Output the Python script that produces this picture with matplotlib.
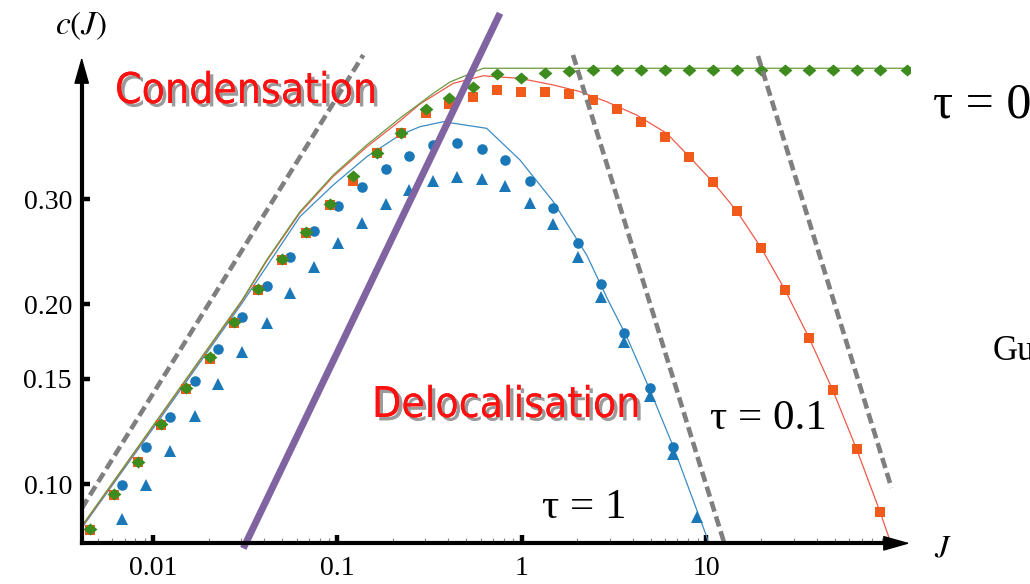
import matplotlib
matplotlib.use("Agg")
import matplotlib.pyplot as plt
import matplotlib.patheffects as pe
from matplotlib import font_manager
from matplotlib.font_manager import FontProperties
from matplotlib.ticker import FixedLocator, NullLocator, LogLocator, NullFormatter

# ---------------- data ----------------
# simulation points, tau = 0 and tau = 0.1 share the same J grid
J_grid = [0.00456, 0.00616, 0.00828, 0.01108, 0.0151, 0.0203, 0.0274, 0.0372,
          0.0499, 0.0676, 0.0912, 0.122, 0.1646, 0.2213, 0.3025, 0.4047,
          0.5463, 0.7318, 0.9913, 1.338, 1.805, 2.428, 3.302, 4.439, 5.99,
          8.12, 10.87, 14.68, 19.88, 26.84, 36.2, 48.7, 65.7, 87.9, 123.0]

c_tau0 = [0.0840, 0.0962, 0.1090, 0.1262, 0.1447, 0.1630, 0.1872, 0.2120,
          0.2380, 0.2645, 0.2945, 0.3282, 0.3591, 0.3880, 0.4250, 0.4440,
          0.4620, 0.4865, 0.4796, 0.4879, 0.4928, 0.4940, 0.4940, 0.4940,
          0.4940, 0.4940, 0.4940, 0.4940, 0.4940, 0.4940, 0.4940, 0.4940,
          0.4940, 0.4940, 0.4940]

c_tau01 = [0.0837, 0.0958, 0.1087, 0.1256, 0.1443, 0.1620, 0.1864, 0.2114,
           0.2373, 0.2637, 0.2935, 0.3224, 0.3591, 0.3870, 0.4180, 0.4340,
           0.4457, 0.4574, 0.4545, 0.4545, 0.4503, 0.4400, 0.4246, 0.4047,
           0.3820, 0.3535, 0.3210, 0.2868, 0.2489, 0.2114, 0.1759, 0.1437,
           0.1143, 0.0899]

# tau = 1, two data sets on a shifted grid
J_tau1 = [0.00678, 0.00920, 0.01230, 0.01687, 0.02259, 0.03048, 0.04150,
          0.05508, 0.07447, 0.1009, 0.1365, 0.1837, 0.2460, 0.3311, 0.4436,
          0.6053, 0.8166, 1.109, 1.484, 2.009, 2.704, 3.606, 4.943, 6.622, 8.913]

c_tau1_circ = [0.0996, 0.1152, 0.1297, 0.1490, 0.1684, 0.1907, 0.2147, 0.2404,
               0.2658, 0.2923, 0.3142, 0.3368, 0.3549, 0.3699, 0.3733, 0.3638,
               0.3491, 0.3220, 0.2905, 0.2532, 0.2161, 0.1789, 0.1447, 0.1155]

c_tau1_tri = [0.0873, 0.0996, 0.1137, 0.1300, 0.1471, 0.1666, 0.1864, 0.2088,
              0.2307, 0.2538, 0.2741, 0.2942, 0.3109, 0.3223, 0.3273, 0.3244,
              0.3158, 0.2961, 0.2724, 0.2404, 0.2060, 0.1732, 0.1404, 0.1123,
              0.0882]

# theory curves
Jth_tau0 = [0.0041, 0.01117, 0.0304, 0.0413, 0.0626, 0.095, 0.1442, 0.2186,
            0.3315, 0.408, 0.619, 128.0]
cth_tau0 = [0.0850, 0.1315, 0.2034, 0.2373, 0.2860, 0.3295, 0.3699, 0.4102,
            0.4516, 0.4717, 0.4974, 0.4974]

Jth_tau01 = [0.0041, 0.01117, 0.0304, 0.0413, 0.0626, 0.095, 0.1442, 0.2186,
             0.2807, 0.4253, 0.6186, 0.979, 1.484, 2.072, 2.892, 4.207, 6.122,
             8.12, 10.87, 14.68, 19.88, 26.84, 36.2, 48.7, 65.7, 87.9, 106.0]
cth_tau01 = [0.0847, 0.1310, 0.2026, 0.2364, 0.2846, 0.3277, 0.3671, 0.4060,
             0.4333, 0.4693, 0.4832, 0.4784, 0.4663, 0.4545, 0.4371, 0.4152,
             0.3870, 0.3535, 0.3210, 0.2868, 0.2489, 0.2114, 0.1759, 0.1437,
             0.1143, 0.0899, 0.0760]

Jth_tau1 = [0.0041, 0.01117, 0.0304, 0.0626, 0.095, 0.1442, 0.2186, 0.2807,
            0.3755, 0.6457, 0.979, 1.484, 2.253, 2.939, 3.713, 4.968, 6.646,
            10.09, 10.78]
cth_tau1 = [0.0844, 0.1300, 0.2010, 0.2805, 0.3170, 0.3535, 0.3845, 0.3970,
            0.4047, 0.3945, 0.3491, 0.2973, 0.2419, 0.2034, 0.1766, 0.1437,
            0.1155, 0.0816, 0.0760]

# asymptotes and the phase boundary
J_asym_left = [0.0041, 0.1382]
c_asym_left = [0.0910, 0.5236]
J_asym_mid = [1.898, 12.56]
c_asym_mid = [0.5236, 0.0796]
J_asym_right = [19.15, 101.5]
c_asym_right = [0.5215, 0.0985]
J_boundary = [0.03086, 0.7627]
c_boundary = [0.0780, 0.615]

x_ticks = [0.01, 0.1, 1, 10]
x_tick_labels = ["0.01", "0.1", "1", "10"]
y_ticks = [0.10, 0.15, 0.20, 0.30]
y_tick_labels = ["0.10", "0.15", "0.20", "0.30"]

# ---------------- style ----------------
W, H = 1030, 584
DPI = 100


def fx(px):
    return px / W


def fy(py):
    return 1 - py / H


def pick_font(names):
    for n in names:
        try:
            font_manager.findfont(n, fallback_to_default=False)
            return n
        except Exception:
            continue
    return "DejaVu Sans"


def narrow_font(size):
    """A regular-weight condensed sans face if one is installed."""
    keys = ("narrow", "condensed", "cond")
    cands = []
    for f in font_manager.fontManager.ttflist:
        name = (f.fname.split("/")[-1]).lower()
        if any(k in name for k in keys) and "sans" in name \
                and "bold" not in name and "italic" not in name \
                and "oblique" not in name and "light" not in name \
                and "semi" not in name and "extra" not in name:
            cands.append(f.fname)
    if cands:
        cands.sort(key=lambda s: ("liberation" not in s.lower(), len(s)))
        return FontProperties(fname=cands[0], size=size)
    return FontProperties(family=pick_font(["Roboto", "Liberation Sans"]),
                          size=size * 0.88)


serif = pick_font(["Liberation Serif", "DejaVu Serif"])
plt.rcParams["mathtext.fontset"] = "stix"

BLUE = "#1a77b8"
ORANGE = "#f05a1a"
GREEN = "#3f8c1e"

fig = plt.figure(figsize=(W / DPI, H / DPI), dpi=DPI, facecolor="white")
ax_left, ax_right, ax_top, ax_bot = 81.7, 910, 57, 543.3
ax = fig.add_axes([fx(ax_left), fy(ax_bot), fx(ax_right - ax_left),
                   (ax_bot - ax_top) / H])
ax.set_xscale("log")
ax.set_yscale("log")
ax.set_xlim(0.004099, 127.9)
ax.set_ylim(0.07955, 0.5195)
ax.patch.set_alpha(0)

# theory curves
ax.plot(Jth_tau1, cth_tau1, color="#3c8cc4", lw=0.9, zorder=2)
ax.plot(Jth_tau01, cth_tau01, color="#ee5a4a", lw=0.9, zorder=2)
ax.plot(Jth_tau0, cth_tau0, color="#6a9a40", lw=0.9, zorder=2)

# simulation markers
ax.plot(J_tau1[:len(c_tau1_tri)], c_tau1_tri, ls="none", marker="^", ms=8.5,
        mew=0, color=BLUE, zorder=3)
ax.plot(J_tau1[:len(c_tau1_circ)], c_tau1_circ, ls="none", marker="o", ms=7.6,
        mew=0, color=BLUE, zorder=3)
ax.plot(J_grid[:len(c_tau01)], c_tau01, ls="none", marker="s", ms=7.8,
        mew=0, color=ORANGE, zorder=4)
diamond = [(-1.15, 0), (0, 1), (1.15, 0), (0, -1), (-1.15, 0)]
ax.plot(J_grid[:len(c_tau0)], c_tau0, ls="none", marker=diamond, ms=10,
        mew=0, color=GREEN, zorder=5)

# asymptotes
dash_kw = dict(color="#7f7f7f", lw=3.3, dashes=(2.3, 1.1), zorder=6,
               clip_on=False, solid_capstyle="butt", dash_capstyle="butt")
ax.plot(J_asym_left, c_asym_left, **dash_kw)
ax.plot(J_asym_mid, c_asym_mid, **dash_kw)
ax.plot(J_asym_right, c_asym_right, **dash_kw)

# condensation / delocalisation boundary
ax.plot(J_boundary, c_boundary, color="#8064a2", lw=5, zorder=7,
        clip_on=False, solid_capstyle="butt")

# axes: only left and bottom, ending in arrows
for s in ("top", "right"):
    ax.spines[s].set_visible(False)
for s in ("left", "bottom"):
    ax.spines[s].set_linewidth(3)
    ax.spines[s].set_zorder(8)
ax.spines["left"].set_bounds(0.07955, 0.47)
ax.spines["bottom"].set_bounds(0.004099, 95.0)

arrow_kw = dict(arrowstyle="-|>,head_length=0.85,head_width=0.24",
                color="k", lw=1.0, mutation_scale=20, shrinkA=0, shrinkB=0)
ax.annotate("", xy=(0, 1), xycoords="axes fraction", xytext=(0, 0.9),
            arrowprops=arrow_kw, annotation_clip=False, zorder=9)
ax.annotate("", xy=(1, 0), xycoords="axes fraction", xytext=(0.95, 0),
            arrowprops=arrow_kw, annotation_clip=False, zorder=9)

# ticks
ax.xaxis.set_major_locator(FixedLocator(x_ticks))
ax.set_xticklabels(x_tick_labels)
ax.xaxis.set_minor_locator(LogLocator(base=10, subs=range(2, 10), numticks=20))
ax.xaxis.set_minor_formatter(NullFormatter())
ax.yaxis.set_major_locator(FixedLocator(y_ticks))
ax.set_yticklabels(y_tick_labels)
ax.yaxis.set_minor_locator(NullLocator())
ax.tick_params(axis="both", which="major", direction="in", length=6,
               width=3.2, color="k")
ax.tick_params(axis="x", which="minor", direction="in", length=3.6,
               width=0.8, color="#888888")
ax.tick_params(axis="x", which="major", pad=9)
ax.tick_params(axis="y", which="major", pad=7)
for lab in ax.get_xticklabels() + ax.get_yticklabels():
    lab.set_fontfamily(serif)
    lab.set_fontsize(20)

# axis names
fig.text(fx(81), fy(25), r"$c(J)$", fontsize=24, ha="center", va="center")
fig.text(fx(943), fy(548), r"$J$", fontsize=23, ha="center", va="center")

# region names
shadow = [pe.withSimplePatchShadow(offset=(2.5, -2.5), shadow_rgbFace="#7a7a7a",
                                   alpha=0.75), pe.Normal()]
fp_region = narrow_font(30.5)
fig.text(fx(115), fy(103), "Condensation", color="#ff1010",
         fontproperties=fp_region, ha="left", va="baseline",
         path_effects=shadow, zorder=5)
fig.text(fx(372), fy(417), "Delocalisation", color="#ff1010",
         fontproperties=fp_region, ha="left", va="baseline",
         path_effects=shadow, zorder=5)

# curve labels
fig.text(fx(933), fy(117), "τ = 0", fontsize=36, family=serif,
         ha="left", va="baseline")
fig.text(fx(710), fy(429), "τ = 0.1", fontsize=31, family=serif,
         ha="left", va="baseline")
fig.text(fx(542), fy(518), "τ = 1", fontsize=31, family=serif,
         ha="left", va="baseline")
fig.text(fx(993), fy(360), "Gu", fontsize=25, family=serif,
         ha="left", va="baseline")

fig.savefig("out.png", dpi=DPI, facecolor="white")
